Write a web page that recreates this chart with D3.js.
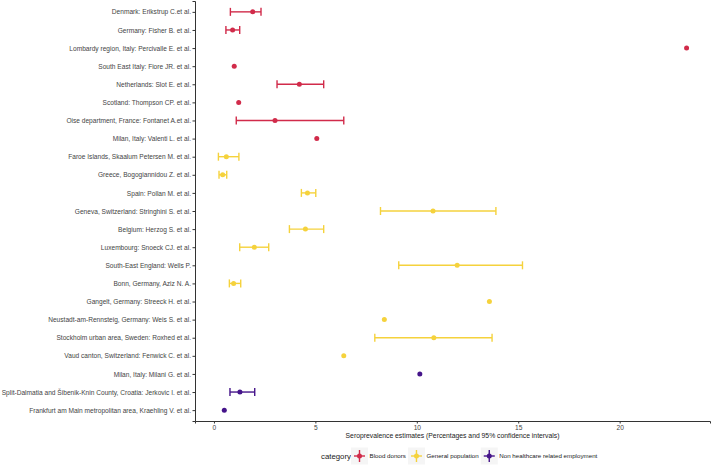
<!DOCTYPE html>
<html>
<head>
<meta charset="utf-8">
<script src="https://cdn.jsdelivr.net/npm/d3@7"></script>
<style>
  body { margin: 0; background: #fff; }
  text { font-family: "Liberation Sans", Arial, sans-serif; }
</style>
</head>
<body>
<svg id="chart" width="713" height="468"></svg>
<script>
var studies = [
  "Denmark: Erikstrup C.et al.",
  "Germany: Fisher B. et al.",
  "Lombardy region, Italy: Percivalle E. et al.",
  "South East Italy: Fiore JR. et al.",
  "Netherlands: Slot E. et al.",
  "Scotland: Thompson CP. et al.",
  "Oise department, France: Fontanet A.et al.",
  "Milan, Italy: Valenti L. et al.",
  "Faroe Islands, Skaalum Petersen M. et al.",
  "Greece, Bogogiannidou Z. et al.",
  "Spain: Pollan M. et al.",
  "Geneva, Switzerland: Stringhini S. et al.",
  "Belgium: Herzog S. et al.",
  "Luxembourg: Snoeck CJ. et al.",
  "South-East England: Wells P.",
  "Bonn, Germany, Aziz N. A.",
  "Gangelt, Germany: Streeck H. et al.",
  "Neustadt-am-Rennsteig, Germany: Weis S. et al.",
  "Stockholm urban area, Sweden: Roxhed et al.",
  "Vaud canton, Switzerland: Fenwick C. et al.",
  "Milan, Italy: Milani G. et al.",
  "Split-Dalmatia and Šibenik-Knin County, Croatia: Jerkovic I. et al.",
  "Frankfurt am Main metropolitan area, Kraehling V. et al."
];
var categories = ["Blood donors", "General population", "Non healthcare related employment"];
var studyCategory = [0,0,0,0,0,0,0,0,1,1,1,1,1,1,1,1,1,1,1,1,2,2,2];
var estimate = [1.91,0.92,23.3,1.0,4.21,1.22,3.01,5.07,0.61,0.43,4.61,10.8,4.51,1.99,11.99,0.97,13.58,8.4,10.84,6.4,10.15,1.28,0.51];
var lower = [0.81,0.59,null,null,3.11,null,1.10,null,0.22,0.25,4.31,8.21,3.72,1.27,9.11,0.76,null,null,7.93,null,null,0.79,null];
var upper = [2.32,1.27,null,null,5.41,null,6.40,null,1.23,0.63,5.02,13.9,5.41,2.70,15.21,1.32,null,null,13.71,null,null,2.01,null];
var xTicks = [0, 5, 10, 15, 20];
var colors = ["#d12b4a", "#f5d23c", "#45148a"];

var data = studies.map(function(s, i) {
  return {label: s, cat: studyCategory[i], est: estimate[i], lo: lower[i], hi: upper[i]};
});

var svg = d3.select("#chart");
var panelLeft = 195, panelRight = 710, panelTop = 1, panelBottom = 421;

var allVals = [];
data.forEach(function(d) {
  allVals.push(d.est);
  if (d.lo != null) allVals.push(d.lo, d.hi);
});
var ext = d3.extent(allVals);
var pad = (ext[1] - ext[0]) * 0.05;
var x = d3.scaleLinear().domain([ext[0] - pad, ext[1] + pad]).range([panelLeft, panelRight]);

// discrete axis with ggplot-style 0.6 expansion
var y = d3.scalePoint().domain(studies).range([panelTop, panelBottom]).padding(0.6);

var color = d3.scaleOrdinal().domain([0,1,2]).range(colors);

// y axis
var yAxis = svg.append("g")
  .attr("transform", "translate(" + panelLeft + ",0)")
  .call(d3.axisLeft(y).tickSize(2.5).tickPadding(1.5));
yAxis.select(".domain").attr("stroke", "#333").attr("stroke-width", 1);
yAxis.selectAll(".tick line").attr("stroke", "#333");
yAxis.selectAll(".tick text").attr("fill", "#444").style("font-size", "6.6px");

// x axis
var xAxis = svg.append("g")
  .attr("transform", "translate(0," + panelBottom + ")")
  .call(d3.axisBottom(x).tickValues(xTicks).tickSize(2.5).tickPadding(1.5));
xAxis.select(".domain").attr("stroke", "#333").attr("stroke-width", 1);
xAxis.selectAll(".tick line").attr("stroke", "#333");
xAxis.selectAll(".tick text").attr("fill", "#444").style("font-size", "6.6px");

svg.append("text")
  .attr("x", (panelLeft + panelRight) / 2)
  .attr("y", 438)
  .attr("text-anchor", "middle")
  .style("font-size", "6.8px")
  .attr("fill", "#222")
  .text("Seroprevalence estimates (Percentages and 95% confidence intervals)");

// error bars
var withCi = data.filter(function(d) { return d.lo != null; });
var bars = svg.append("g").selectAll("g")
  .data(withCi)
  .enter()
  .append("g")
  .attr("stroke", function(d) { return color(d.cat); })
  .attr("stroke-width", 1.4);

bars.append("line")
  .attr("x1", function(d) { return x(d.lo); })
  .attr("x2", function(d) { return x(d.hi); })
  .attr("y1", function(d) { return y(d.label); })
  .attr("y2", function(d) { return y(d.label); });
bars.append("line")
  .attr("x1", function(d) { return x(d.lo); })
  .attr("x2", function(d) { return x(d.lo); })
  .attr("y1", function(d) { return y(d.label) - 4; })
  .attr("y2", function(d) { return y(d.label) + 4; });
bars.append("line")
  .attr("x1", function(d) { return x(d.hi); })
  .attr("x2", function(d) { return x(d.hi); })
  .attr("y1", function(d) { return y(d.label) - 4; })
  .attr("y2", function(d) { return y(d.label) + 4; });

// points
svg.append("g").selectAll("circle")
  .data(data)
  .enter()
  .append("circle")
  .attr("cx", function(d) { return x(d.est); })
  .attr("cy", function(d) { return y(d.label); })
  .attr("r", 2.5)
  .attr("fill", function(d) { return color(d.cat); });

// legend, laid out from text widths
var legend = svg.append("g").attr("transform", "translate(0,456)");
legend.append("text")
  .attr("x", 321)
  .attr("y", 0)
  .attr("dy", "0.35em")
  .style("font-size", "7.8px")
  .attr("fill", "#222")
  .text("category");

var cursor = 351;
categories.forEach(function(c, i) {
  var k = legend.append("g").attr("transform", "translate(" + cursor + ",0)");
  k.append("rect")
    .attr("x", 0).attr("y", -8.5)
    .attr("width", 17).attr("height", 17)
    .attr("fill", "#f5f5f5");
  k.append("line")
    .attr("x1", 3).attr("x2", 14).attr("y1", 0).attr("y2", 0)
    .attr("stroke", colors[i]).attr("stroke-width", 1.4);
  k.append("line")
    .attr("x1", 8.5).attr("x2", 8.5).attr("y1", -6).attr("y2", 6)
    .attr("stroke", colors[i]).attr("stroke-width", 1.4);
  k.append("circle")
    .attr("cx", 8.5).attr("cy", 0).attr("r", 2.5)
    .attr("fill", colors[i]);
  var t = k.append("text")
    .attr("x", 18.5)
    .attr("y", 0)
    .attr("dy", "0.35em")
    .style("font-size", "6.2px")
    .attr("fill", "#222")
    .text(c);
  cursor += 18.5 + t.node().getComputedTextLength() + 2;
});
</script>
</body>
</html>
